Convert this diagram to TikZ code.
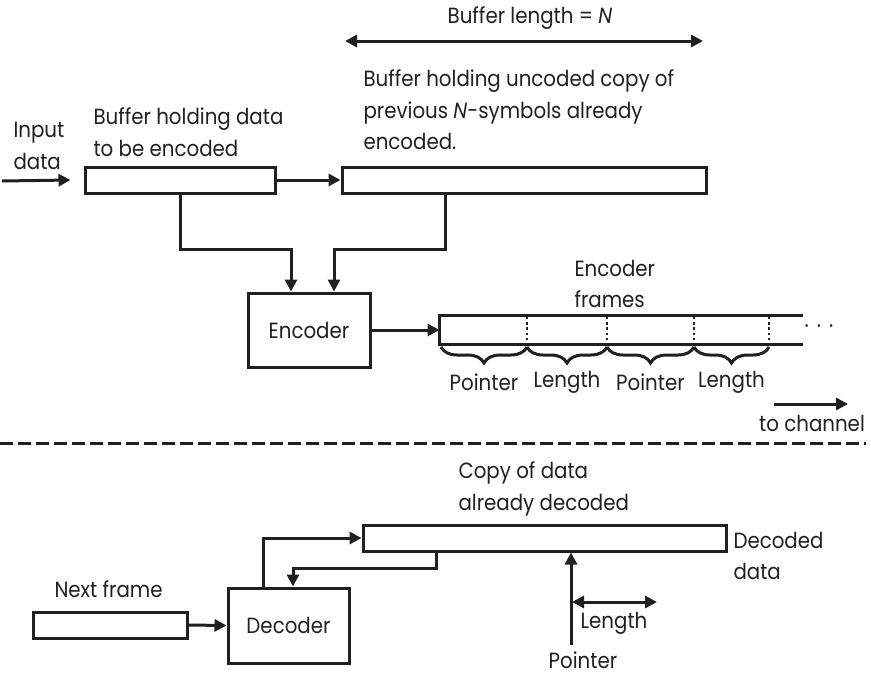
\documentclass[tikz,border=0pt]{standalone}
\usepackage{fontspec}
\setmainfont{Poppins}[FakeStretch=0.9]
\usetikzlibrary{arrows.meta, positioning, decorations.pathreplacing}

\definecolor{ink}{HTML}{231F20}
\newcommand{\lbl}{\fontsize{11}{15.75}\selectfont}

\tikzset{
  arr/.style={-{Triangle[length=6pt,width=6pt]}},
  dblarr/.style={{Triangle[length=6pt,width=6pt]}-{Triangle[length=6pt,width=6pt]}},
  buffer/.style={draw, minimum height=13pt, inner sep=0pt},
  block/.style={draw, inner sep=0pt, font=\lbl},
  lbl/.style={inner sep=0pt, align=left, font=\lbl},
  sep/.style={line width=1pt, dash pattern=on 1.2pt off 1.4pt},
  brace/.style={decorate, decoration={brace, mirror, amplitude=8pt}},
}

\begin{document}
\begin{tikzpicture}[x=0.5pt, y=-0.5pt, line width=1.5pt, draw=ink, text=ink]
    \useasboundingbox (0,0) rectangle (871,675);

    % encoder side
    \node (buflen) [lbl] at (530,18) {Buffer length = \textit{N}};
    \coordinate (lenL) at (345,41);
    \coordinate (lenR) at (703,41);
    \draw [dblarr] (lenL) -- (lenR);

    \node (histtxt) [lbl, anchor=west] at (362,110)
      {Buffer holding uncoded copy of\\previous \textit{N}-symbols already\\encoded.};
    \node (intxt) [lbl, anchor=west] at (12,146) {Input\\data};
    \node (inbuftxt) [lbl, anchor=west] at (92,132) {Buffer holding data\\to be encoded};

    \node (inbuf) [buffer, minimum width=95pt] at (180,180) {};
    \node (histbuf) [buffer, minimum width=182pt] at (524,180) {};
    \node (enc) [block, minimum width=61pt, minimum height=37pt] at (309,330) {Encoder};

    \coordinate (in) at (2,181);
    \draw [arr] (in) -- ([xshift=-6.5pt]inbuf.west);
    \draw [arr] (inbuf.east) -- (histbuf.west);
    \draw [arr] (inbuf.south) -- ++(0,55) -| ([xshift=-9pt]enc.north);
    \draw [arr] ([xshift=52.5pt]histbuf.south west) -- ++(0,55) -| ([xshift=12.5pt]enc.north);

    % frames sent to the channel
    \node (frametxt) [lbl, anchor=west] at (573,284) {Encoder\\frames};
    \node (strip) [minimum width=180pt, minimum height=13pt, inner sep=0pt] at (621,330) {};
    \draw (strip.north east) -- (strip.north west) -- (strip.south west) -- (strip.south east);
    \draw [arr] (enc.east) -- (strip.west);
    \foreach \x in {527,607,694,769}
      \draw [sep] (\x,317) -- (\x,343);
    \node (more) [lbl] at (819,329) {·\hspace{4pt}·\hspace{4pt}·};
    \foreach \a/\b/\t in {441/527/Pointer, 527/607/Length, 607/694/Pointer, 694/769/Length}
      \draw [brace] (\a,347) -- (\b,347) node [lbl, midway, yshift=-17.5pt] {\t};

    \node (chan) [lbl] at (812,423) {to channel};
    \coordinate (chanA) at (774,404);
    \coordinate (chanB) at (848,404);
    \draw [arr] (chanA) -- (chanB);

    \coordinate (cutL) at (0,443);
    \coordinate (cutR) at (866,443);
    \draw [dash pattern=on 6.5pt off 2.5pt] (cutL) -- (cutR);

    % decoder side
    \node (copytxt) [lbl, anchor=west] at (457,489) {Copy of data\\already decoded};
    \node (decbuf) [buffer, minimum width=181.5pt] at (544.5,538) {};
    \node (outtxt) [lbl, anchor=west] at (732,556) {Decoded\\data};
    \node (nexttxt) [lbl, anchor=west] at (53,589) {Next frame};
    \node (nextbuf) [buffer, minimum width=77pt] at (110,625) {};
    \node (dec) [block, minimum width=60.5pt, minimum height=37.5pt] at (288.5,625.5) {Decoder};

    \draw [arr] (nextbuf.east) -- (dec.west);
    \draw [arr] ([xshift=-12.75pt]dec.north) |- (decbuf.west);
    \draw [arr] ([xshift=37.5pt]decbuf.south west) -- ++(0,16) -| ([xshift=2.25pt]dec.north);

    \node (ptr) [lbl] at (583,660) {Pointer};
    \coordinate (ptrtail) at (571,645);
    \draw [arr] (ptrtail) -- (ptrtail |- decbuf.south);

    \node (lentxt) [lbl] at (614,623) {Length};
    \coordinate (stepL) at (572,602);
    \coordinate (stepR) at (657,602);
    \draw [dblarr] (stepL) -- (stepR);
\end{tikzpicture}
\end{document}
